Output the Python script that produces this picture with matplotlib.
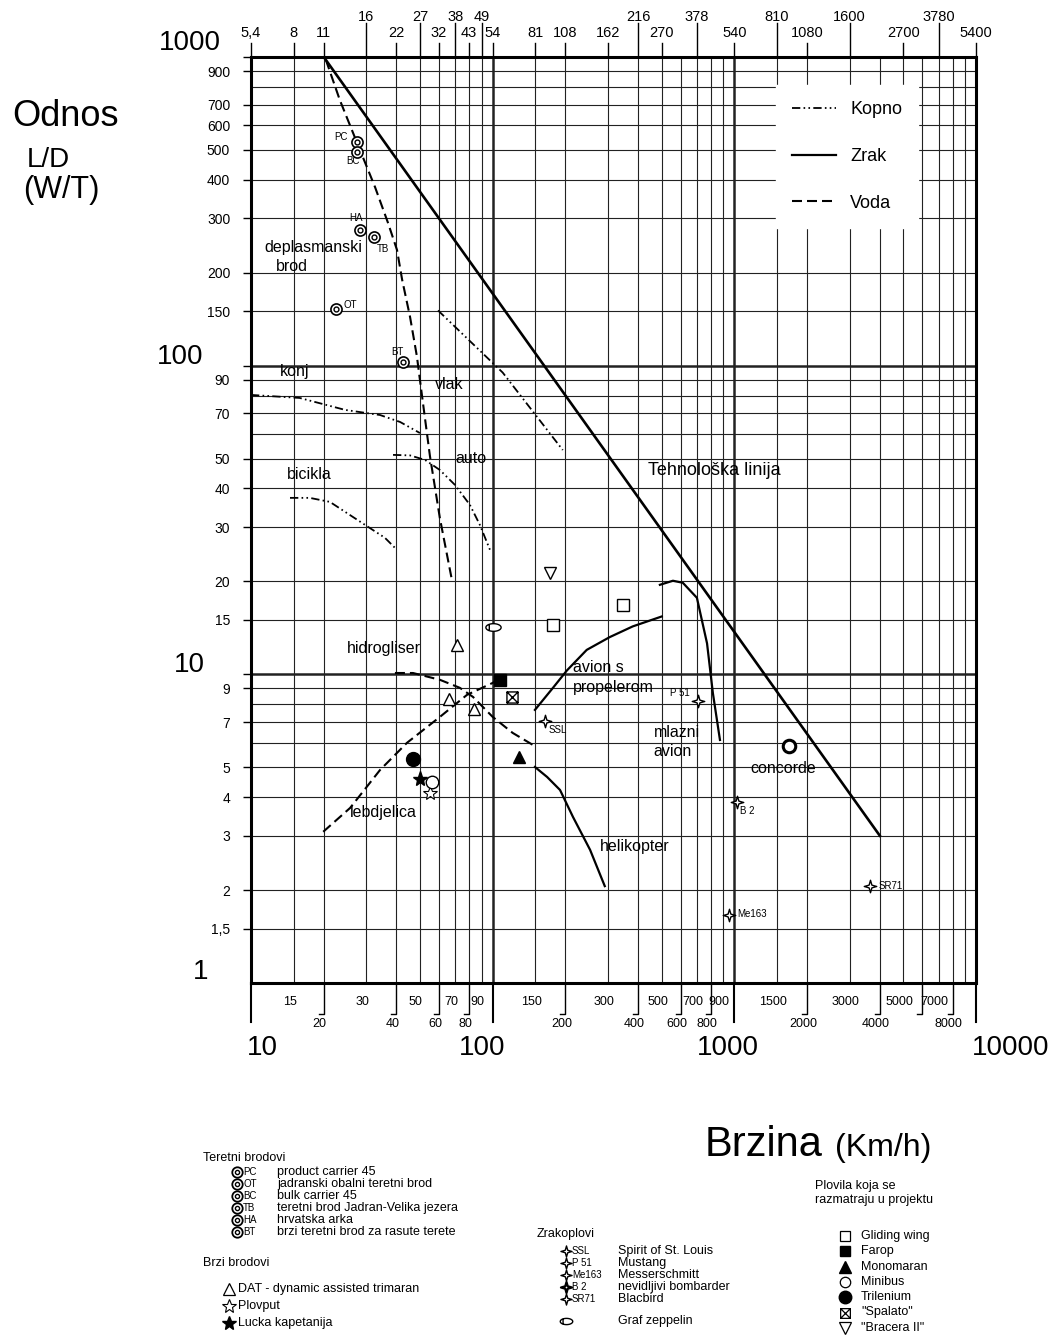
import numpy as np
import matplotlib
matplotlib.use('Agg')
import matplotlib.pyplot as plt
from matplotlib.path import Path
from matplotlib.transforms import offset_copy

plt.rcParams['font.family'] = ['Liberation Sans', 'DejaVu Sans']

# ---- mreza i oznake osi (brzina u km/h, odnos L/D) ----
x_grid = [10, 15, 20, 30, 40, 50, 60, 70, 80, 90, 100, 150, 200, 300, 400, 500,
          600, 700, 800, 900, 1000, 1500, 2000, 3000, 4000, 5000, 6000, 7000,
          8000, 9000, 10000]
y_grid = [1.5, 2, 3, 4, 5, 6, 7, 8, 9, 10, 15, 20, 30, 40, 50, 60, 70, 80, 90,
          100, 150, 200, 300, 400, 500, 600, 700, 800, 900]
y_ticks = [900, 700, 600, 500, 400, 300, 200, 150, 90, 70, 50, 40, 30, 20, 15,
           9, 7, 5, 4, 3, 2, 1.5]
y_tick_labels = ['900', '700', '600', '500', '400', '300', '200', '150', '90', '70',
                 '50', '40', '30', '20', '15', '9', '7', '5', '4', '3', '2', '1,5']
decades = [10, 100, 1000, 10000]

bottom_upper = [15, 30, 50, 70, 90, 150, 300, 500, 700, 900, 1500, 3000, 5000, 7000]
bottom_lower = [20, 40, 60, 80, 200, 400, 600, 800, 2000, 4000, 6000, 8000]
bottom_lower_labels = ['20', '40', '60', '80', '200', '400', '600', '800', '2000',
                       '4000', '', '8000']

# gornja skala u cvorovima
top_upper_pos = [30, 50, 70, 90, 400, 700, 1500, 3000, 7000]
top_upper_lbl = ['16', '27', '38', '49', '216', '378', '810', '1600', '3780']
top_lower_pos = [10, 15, 20, 40, 60, 80, 100, 150, 200, 300, 500, 1000, 2000, 5000, 10000]
top_lower_lbl = ['5,4', '8', '11', '22', '32', '43', '54', '81', '108', '162', '270',
                 '540', '1080', '2700', '5400']

# ---- krivulje ----
tech_v = [20, 4000]
tech_ld = [1000, 3]

brod_v = [20.4, 23.3, 27.5, 32.6, 36.9, 40.2, 42.2, 45.5, 48.6, 50, 55, 60.5, 68]
brod_ld = [980, 726, 526, 379, 290, 237, 190, 144, 107, 90, 51, 32, 20]

hidro_v = [39.4, 46.8, 60.5, 73.2, 82.9, 100, 121, 147]
hidro_ld = [10.1, 10.1, 9.6, 9.04, 8.45, 7.28, 6.46, 5.9]

lebd_v = [19.9, 25.7, 34.2, 44.2, 60.5, 78.3, 100, 105]
lebd_ld = [3.09, 3.69, 4.9, 6.0, 7.28, 8.58, 9.38, 9.6]

konj_v = [10, 15.9, 24.5, 34.2, 41.4, 50]
konj_ld = [80.4, 78.6, 71.9, 69.2, 65.7, 60.5]

bic_v = [14.5, 17.5, 21.2, 25.7, 31, 35.8, 39.4]
bic_ld = [37.3, 37.3, 36.2, 32.8, 29.8, 27.7, 25.7]

vlak_v = [59.4, 110, 195]
vlak_ld = [151, 95, 53.3]

auto_v = [38.7, 45.5, 52.5, 60.5, 69.8, 80.5, 88.5, 97.5]
auto_ld = [51.4, 51.2, 49.5, 45.9, 41.1, 35.4, 30.5, 25.3]

prop_v = [149.6, 177.6, 203, 245, 305, 380, 501]
prop_ld = [7.67, 9.04, 10.3, 12.0, 13.2, 14.3, 15.4]

jet_v = [492, 557, 612, 700, 771, 815, 872]
jet_ld = [19.5, 20.1, 19.8, 17.7, 12.6, 8.7, 6.13]

heli_v = [149.6, 168, 190, 215, 253, 291]
heli_ld = [5.01, 4.65, 4.22, 3.45, 2.70, 2.06]

# ---- tocke ----
cargo_codes = ['PC', 'OT', 'BC', 'TB', 'HA', 'BT']
cargo_v = [27.5, 22.5, 27.5, 32.3, 28.2, 42.6]
cargo_ld = [530, 153, 492, 261, 275, 103]
cargo_off = [(-16, 5), (14, 4), (-4, -9), (9, -12), (-4, 12), (-6, 10)]

dat_v = [71.1, 65.9, 83.7]
dat_ld = [12.4, 8.32, 7.72]
plovput_v, plovput_ld = [55], [4.13]
lucka_v, lucka_ld = [50], [4.58]

air_codes = ['SSL', 'P 51', 'Me163', 'B 2', 'SR71']
air_v = [164, 706, 950, 1026, 3640]
air_ld = [7.06, 8.2, 1.66, 3.86, 2.06]
air_off = [(13, -9), (-18, 8), (23, 1), (10, -9), (21, 0)]

zepp_v, zepp_ld = [100], [14.2]
glide_v, glide_ld = [177.6, 346], [14.4, 16.8]
farop_v, farop_ld = [107], [9.6]
mono_v, mono_ld = [128.5], [5.4]
minibus_v, minibus_ld = [56.1], [4.48]
tril_v, tril_ld = [46.8], [5.32]
spal_v, spal_ld = [120], [8.45]
brac_v, brac_ld = [172.6], [21.3]
conc_v, conc_ld = [1683], [5.87]

# ---- posebni markeri ----
th = np.linspace(0, 2 * np.pi, 40)
zepp_verts = list(zip(np.cos(th), 0.5 * np.sin(th))) + [(-0.55, -0.42), (-0.55, 0.42)]
zepp_codes = [Path.MOVETO] + [Path.LINETO] * 38 + [Path.CLOSEPOLY, Path.MOVETO, Path.LINETO]
zepp_marker = Path(zepp_verts, zepp_codes)

box_verts = [(-1, -1), (1, -1), (1, 1), (-1, 1), (-1, -1),
             (-1, -1), (1, 1), (-1, 1), (1, -1)]
box_codes = [Path.MOVETO, Path.LINETO, Path.LINETO, Path.LINETO, Path.CLOSEPOLY,
             Path.MOVETO, Path.LINETO, Path.MOVETO, Path.LINETO]
boxx_marker = Path(box_verts, box_codes)

s4 = [(0, 1), (0.22, 0.22), (1, 0), (0.22, -0.22), (0, -1), (-0.22, -0.22), (-1, 0),
      (-0.22, 0.22), (0, 1)]
star4_marker = Path(s4, [Path.MOVETO] + [Path.LINETO] * 7 + [Path.CLOSEPOLY])

KOPNO = (0, (4.6, 1.8, 0.9, 1.8, 0.9, 1.8))
VODA = (0, (4.8, 2.4))

fig = plt.figure(figsize=(10.59, 13.35), dpi=100, facecolor='white')
ax = fig.add_axes([251 / 1059, 352 / 1335, 725 / 1059, 926 / 1335])
ax.set_xscale('log')
ax.set_yscale('log')
ax.set_xlim(10, 10000)
ax.set_ylim(1, 1000)

# mreza
for v in x_grid:
    ax.axvline(v, color='#222222', lw=1.8 if v in decades else 0.8, zorder=1)
for v in y_grid:
    ax.axhline(v, color='#222222', lw=1.8 if v in decades else 0.8, zorder=1)

for s in ax.spines.values():
    s.set_linewidth(2.2)

# y os
ax.yaxis.set_minor_locator(matplotlib.ticker.NullLocator())
ax.xaxis.set_minor_locator(matplotlib.ticker.NullLocator())
ax.set_yticks(y_ticks + [1000, 100, 10], y_tick_labels + ['', '', ''])
ax.tick_params(axis='y', length=6, width=1, pad=9, labelsize=10)
ax.set_xticks([])

# donja skala
trans = ax.get_xaxis_transform()
tr_lbl = offset_copy(trans, fig=fig, x=-4, y=0, units='dots')
for v in bottom_upper:
    ax.text(v, -0.0205, str(v), transform=tr_lbl, ha='center', va='center', fontsize=9)
for v, lbl in zip(bottom_lower, bottom_lower_labels):
    ax.plot([v * 0.953, v, v], [-0.0335, -0.0335, 0], transform=trans,
            clip_on=False, color='black', lw=1)
    ax.text(v, -0.0443, lbl, transform=tr_lbl, ha='center', va='center', fontsize=9)
for v in decades:
    ax.plot([v, v], [0, -0.042], transform=trans, clip_on=False, color='black', lw=1.5)

# gornja skala (cvorovi)
for v, lbl in zip(top_upper_pos, top_upper_lbl):
    ax.plot([v, v], [1, 1.0367], transform=trans, clip_on=False, color='black', lw=1)
    ax.text(v, 1.0432, lbl, transform=trans, ha='center', va='center', fontsize=10.5)
for v, lbl in zip(top_lower_pos, top_lower_lbl):
    ax.plot([v, v], [1, 1.0151], transform=trans, clip_on=False, color='black', lw=1)
    ax.text(v, 1.0259, lbl, transform=trans, ha='center', va='center', fontsize=10.5)

# krivulje
ax.plot(tech_v, tech_ld, color='black', lw=1.9, zorder=3)
h_voda, = ax.plot(brod_v, brod_ld, color='black', lw=1.5, ls=VODA, zorder=3)
ax.plot(hidro_v, hidro_ld, color='black', lw=1.5, ls=VODA, zorder=3)
ax.plot(lebd_v, lebd_ld, color='black', lw=1.5, ls=VODA, zorder=3)
h_kopno, = ax.plot(konj_v, konj_ld, color='black', lw=1.3, ls=KOPNO, zorder=3)
ax.plot(bic_v, bic_ld, color='black', lw=1.3, ls=KOPNO, zorder=3)
ax.plot(vlak_v, vlak_ld, color='black', lw=1.3, ls=KOPNO, zorder=3)
ax.plot(auto_v, auto_ld, color='black', lw=1.3, ls=KOPNO, zorder=3)
h_zrak, = ax.plot(prop_v, prop_ld, color='black', lw=1.6, zorder=3)
ax.plot(jet_v, jet_ld, color='black', lw=1.6, zorder=3)
ax.plot(heli_v, heli_ld, color='black', lw=1.6, zorder=3)

# tocke
mk = dict(color='black', ls='none', zorder=4)
ax.plot(cargo_v, cargo_ld, marker='o', ms=8, mfc='white', mec='black', mew=1.2, **mk)
ax.plot(cargo_v, cargo_ld, marker='o', ms=3.5, mfc='white', mec='black', mew=1, **mk)
for c, v, l, (dx, dy) in zip(cargo_codes, cargo_v, cargo_ld, cargo_off):
    ax.annotate(c, (v, l), xytext=(dx, dy), textcoords='offset pixels',
                ha='center', va='center', fontsize=7)
ax.plot(dat_v, dat_ld, marker='^', ms=9, mfc='white', mec='black', mew=1, **mk)
ax.plot(plovput_v, plovput_ld, marker='*', ms=10, mfc='white', mec='black', mew=0.8, **mk)
ax.plot(lucka_v, lucka_ld, marker='*', ms=11, mfc='black', mec='black', **mk)
ax.plot(air_v, air_ld, marker=star4_marker, ms=9, mfc='white', mec='black', mew=1, **mk)
for c, v, l, (dx, dy) in zip(air_codes, air_v, air_ld, air_off):
    ax.annotate(c, (v, l), xytext=(dx, dy), textcoords='offset pixels',
                ha='center', va='center', fontsize=7)
ax.plot(zepp_v, zepp_ld, marker=zepp_marker, ms=11, mfc='white', mec='black', mew=1, **mk)
ax.plot(glide_v, glide_ld, marker='s', ms=8, mfc='white', mec='black', mew=1, **mk)
ax.plot(farop_v, farop_ld, marker='s', ms=8, mfc='black', mec='black', **mk)
ax.plot(mono_v, mono_ld, marker='^', ms=9, mfc='black', mec='black', **mk)
ax.plot(minibus_v, minibus_ld, marker='o', ms=9, mfc='white', mec='black', mew=1, **mk)
ax.plot(tril_v, tril_ld, marker='o', ms=10, mfc='black', mec='black', **mk)
ax.plot(spal_v, spal_ld, marker=boxx_marker, ms=8, mfc='white', mec='black', mew=1, **mk)
ax.plot(brac_v, brac_ld, marker='v', ms=9, mfc='white', mec='black', mew=1, **mk)
ax.plot(conc_v, conc_ld, marker='o', ms=9, mfc='white', mec='black', mew=2.2, **mk)

# natpisi u dijagramu
fs = 11.5
for txt, v, l in [('deplasmanski', 11.4, 242), ('brod', 12.7, 210), ('konj', 13.2, 95.4),
                  ('vlak', 57.7, 86.6), ('auto', 69.8, 50.2), ('bicikla', 14.1, 44.3),
                  ('hidrogliser', 24.9, 12.1),
                  ('avion s', 215, 10.5), ('propelerom', 215, 9.04),
                  ('mlazni', 464, 6.46), ('avion', 464, 5.61), ('concorde', 1162, 4.94),
                  ('lebdjelica', 25.7, 3.56), ('helikopter', 278, 2.76)]:
    ax.text(v, l, txt, ha='left', va='center', fontsize=fs, zorder=5)
ax.text(440, 45.9, 'Tehnološka linija', ha='left', va='center', fontsize=13, zorder=5)

leg = ax.legend(handles=[h_kopno, h_zrak, h_voda], labels=['Kopno', 'Zrak', 'Voda'],
                loc='upper left', bbox_to_anchor=(0.7241, 0.97), fontsize=13,
                handlelength=2.4, handletextpad=0.8, labelspacing=1.65, borderpad=0.9,
                borderaxespad=0, frameon=True, fancybox=False, edgecolor='white',
                framealpha=1)
leg.set_zorder(6)

# ---- tekst izvan dijagrama (pikselne koordinate) ----
ov = fig.add_axes([0, 0, 1, 1])
ov.set_xlim(0, 1059)
ov.set_ylim(1335, 0)
ov.axis('off')
ov.patch.set_alpha(0)


def t(x, y, s, size, ha='left', **kw):
    ov.text(x, y, s, fontsize=size, ha=ha, va='center', **kw)


def sym(x, y, **kw):
    ov.plot([x], [y], ls='none', mec='black', clip_on=False, **kw)


t(12, 116, 'Odnos', 26)
t(27, 160, 'L/D', 20)
t(23, 190, '(W/T)', 22)
t(705, 1145, 'Brzina', 30)
t(835, 1148, '(Km/h)', 23)

for s, x, y in [('1000', 221, 43), ('100', 203, 357), ('10', 205, 665), ('1', 208, 972)]:
    t(x, y, s, 20, ha='right')
for s, x in [('10', 262), ('100', 482), ('1000', 728), ('10000', 1011)]:
    t(x, 1048, s, 20, ha='center')

# legenda: teretni brodovi
cargo_desc = ['product carrier 45', 'jadranski obalni teretni brod', 'bulk carrier 45',
              'teretni brod Jadran-Velika jezera', 'hrvatska arka',
              'brzi teretni brod za rasute terete']
t(203, 1158, 'Teretni brodovi', 9)
for i, (c, d) in enumerate(zip(cargo_codes, cargo_desc)):
    y = 1172 + 12 * i
    sym(237, y, marker='o', ms=7.5, mfc='white', mew=1.3)
    sym(237, y, marker='o', ms=3, mfc='white', mew=1)
    t(243, y, c, 7)
    t(277, y, d, 9)

t(203, 1263, 'Brzi brodovi', 9)
t(238, 1289, 'DAT - dynamic assisted trimaran', 9)
sym(229, 1289, marker='^', ms=8, mfc='white', mew=0.9)
t(238, 1306, 'Plovput', 9)
sym(229, 1306, marker='*', ms=10, mfc='white', mew=0.8)
t(238, 1323, 'Lucka kapetanija', 9)
sym(229, 1323, marker='*', ms=10, mfc='black')

# legenda: zrakoplovi
air_desc = ['Spirit of St. Louis', 'Mustang', 'Messerschmitt', 'nevidljivi bombarder',
            'Blacbird']
t(537, 1234, 'Zrakoplovi', 9)
for i, (c, d) in enumerate(zip(air_codes, air_desc)):
    y = 1251 + 12 * i
    sym(566, y, marker=star4_marker, ms=8, mfc='white', mew=1.6 if c == 'B 2' else 1)
    t(572, y, c, 7)
    t(618, y, d, 9)
sym(566, 1321, marker=zepp_marker, ms=9, mfc='white', mew=1)
t(618, 1321, 'Graf zeppelin', 9)

# legenda: plovila u projektu
t(815, 1186, 'Plovila koja se', 9)
t(815, 1200, 'razmatraju u projektu', 9)
proj_desc = ['Gliding wing', 'Farop', 'Monomaran', 'Minibus', 'Trilenium', '"Spalato"',
             '"Bracera II"']
proj_sym = [dict(marker='s', ms=7, mfc='white', mew=0.9),
            dict(marker='s', ms=7, mfc='black'),
            dict(marker='^', ms=8, mfc='black'),
            dict(marker='o', ms=7.5, mfc='white', mew=0.9),
            dict(marker='o', ms=9, mfc='black'),
            dict(marker=boxx_marker, ms=7, mfc='white', mew=0.9),
            dict(marker='v', ms=8, mfc='white', mew=0.9)]
for i, (d, st) in enumerate(zip(proj_desc, proj_sym)):
    y = 1236 + 15.3 * i
    sym(845, y, **st)
    t(861, y, d, 9)

fig.savefig('out.png', dpi=100, facecolor='white')
